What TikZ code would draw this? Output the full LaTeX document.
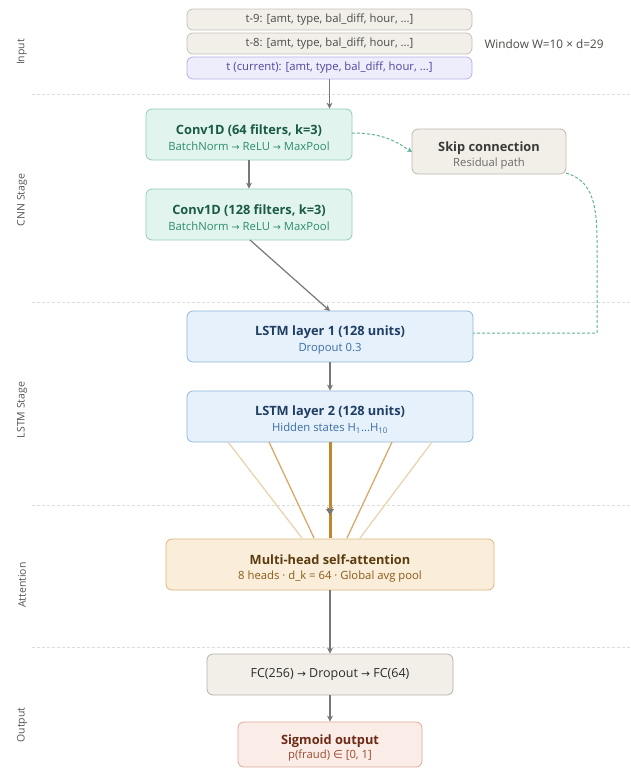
\documentclass[tikz,border=0pt]{standalone}
\usepackage{fontspec}
\setmainfont{Open Sans}
\newfontfamily\symfont{DejaVu Sans}
\newcommand{\rarr}{{\symfont\fontsize{0.85em}{1em}\selectfont →}}
\newcommand{\elemof}{{\symfont ∈}}
\usetikzlibrary{arrows.meta}
\definecolor{sepc}{HTML}{DDDDDA}
\definecolor{arrc}{HTML}{777775}
\definecolor{inpfill}{HTML}{F1EFE8}
\definecolor{inpdraw}{HTML}{C4C1B8}
\definecolor{inptext}{HTML}{4A4A47}
\definecolor{curfill}{HTML}{EEEDFC}
\definecolor{curdraw}{HTML}{B5B0E8}
\definecolor{curtext}{HTML}{4E45A0}
\definecolor{cnnfill}{HTML}{E1F5EE}
\definecolor{cnndraw}{HTML}{93CDB7}
\definecolor{cnntitle}{HTML}{1B5A47}
\definecolor{cnnsub}{HTML}{2F8A6C}
\definecolor{skipfill}{HTML}{F1EFE8}
\definecolor{skipdraw}{HTML}{BDB9AD}
\definecolor{skiptitle}{HTML}{3A3A37}
\definecolor{skipsub}{HTML}{6B6A65}
\definecolor{skipline}{HTML}{5DB394}
\definecolor{lstmfill}{HTML}{E6F1FB}
\definecolor{lstmdraw}{HTML}{8FB5DA}
\definecolor{lstmtitle}{HTML}{1F3E63}
\definecolor{lstmsub}{HTML}{3A6EA5}
\definecolor{attfill}{HTML}{FAEEDA}
\definecolor{attdraw}{HTML}{D9B67C}
\definecolor{atttitle}{HTML}{5A3C10}
\definecolor{attsub}{HTML}{8A5A18}
\definecolor{fanouter}{HTML}{EBD3B0}
\definecolor{faninner}{HTML}{D6AA68}
\definecolor{fancenter}{HTML}{C4862C}
\definecolor{fcfill}{HTML}{F1EFE8}
\definecolor{fcdraw}{HTML}{B4B2A9}
\definecolor{fctext}{HTML}{2C2C2A}
\definecolor{sigfill}{HTML}{FAECE7}
\definecolor{sigdraw}{HTML}{E0A898}
\definecolor{sigtitle}{HTML}{6E2A17}
\definecolor{sigsub}{HTML}{A04A30}
\definecolor{stagec}{HTML}{555553}
\newcommand{\ttl}{\fontsize{12.8}{15}\selectfont\bfseries\rule{0pt}{17pt}}
\newcommand{\sbt}{\fontsize{11.3}{13}\selectfont}
\begin{document}
\begin{tikzpicture}[x=1pt,y=-1pt,
  boxbase/.style={rectangle,rounded corners=6pt,line width=0.8pt,align=center,inner sep=0pt},
  inpbox/.style={boxbase,fill=inpfill,draw=inpdraw,text=inptext,minimum width=285pt,minimum height=21pt,font=\fontsize{11.3}{12}\selectfont},
  curbox/.style={boxbase,fill=curfill,draw=curdraw,text=curtext,minimum width=285pt,minimum height=22pt,font=\fontsize{11.3}{12}\selectfont},
  cnnbox/.style={boxbase,fill=cnnfill,draw=cnndraw,minimum width=206pt,minimum height=51pt},
  skipbox/.style={boxbase,fill=skipfill,draw=skipdraw,minimum width=154pt,minimum height=45pt},
  lstmbox/.style={boxbase,fill=lstmfill,draw=lstmdraw,minimum width=286pt,minimum height=51pt},
  attbox/.style={boxbase,fill=attfill,draw=attdraw,minimum width=328pt,minimum height=51pt},
  fcbox/.style={boxbase,fill=fcfill,draw=fcdraw,text=fctext,minimum width=246pt,minimum height=41pt,font=\fontsize{12.5}{14}\selectfont},
  sigbox/.style={boxbase,fill=sigfill,draw=sigdraw,minimum width=184pt,minimum height=45pt},
  sep/.style={draw=sepc,line width=0.7pt,dash pattern=on 3pt off 2pt},
  flow/.style={draw=arrc,line width=1.2pt,-{Stealth[length=6pt,width=6pt]}},
  skipln/.style={draw=skipline,line width=1pt,dash pattern=on 3pt off 2pt},
  stage/.style={rotate=90,text=stagec,font=\fontsize{10.5}{12}\selectfont},
]
\useasboundingbox (0,0) rectangle (631,769);
% separators
\coordinate (s1a) at (32,94);   \coordinate (s1b) at (631,94);
\coordinate (s2a) at (32,302);  \coordinate (s2b) at (631,302);
\coordinate (s3a) at (32,505);  \coordinate (s3b) at (631,505);
\coordinate (s4a) at (32,647);  \coordinate (s4b) at (631,647);
\draw[sep] (s1a) -- (s1b);
\draw[sep] (s2a) -- (s2b);
\draw[sep] (s3a) -- (s3b);
\draw[sep] (s4a) -- (s4b);
% stage labels
\node[stage] (lin) at (22,52) {Input};
\node[stage] (lcnn) at (22,200) {CNN Stage};
\node[stage] (llstm) at (22,410) {LSTM Stage};
\node[stage] (latt) at (22,585) {Attention};
\node[stage] (lout) at (22,725) {Output};
% input
\node[inpbox] (t9) at (329.5,19.5) {t-9: [amt, type, bal\_diff, hour, ...]};
\node[inpbox] (t8) at (329.5,43.5) {t-8: [amt, type, bal\_diff, hour, ...]};
\node[curbox] (tc) at (329.5,68) {t (current): [amt, type, bal\_diff, hour, ...]};
\node[anchor=west,text=inptext,font=\fontsize{11.8}{13}\selectfont] (win) at (481,44) {Window W=10 × d=29};
% CNN
\node[cnnbox] (c1) at (249,134.5) {{\ttl\color{cnntitle}Conv1D (64 filters, k=3)}\\[4pt]{\sbt\color{cnnsub}BatchNorm \rarr{} ReLU \rarr{} MaxPool}};
\node[cnnbox] (c2) at (249,214.5) {{\ttl\color{cnntitle}Conv1D (128 filters, k=3)}\\[4pt]{\sbt\color{cnnsub}BatchNorm \rarr{} ReLU \rarr{} MaxPool}};
\node[skipbox] (sk) at (489,151.5) {{\ttl\color{skiptitle}Skip connection}\\[3pt]{\sbt\color{skipsub}Residual path}};
% LSTM
\node[lstmbox] (l1) at (330,336.5) {{\ttl\color{lstmtitle}LSTM layer 1 (128 units)}\\[4pt]{\sbt\color{lstmsub}Dropout 0.3}};
\node[lstmbox] (l2) at (330,416.5) {{\ttl\color{lstmtitle}LSTM layer 2 (128 units)}\\[4pt]{\sbt\color{lstmsub}Hidden states H\textsubscript{1}...H\textsubscript{10}}};
% attention
\node[attbox] (at) at (330,564.5) {{\ttl\color{atttitle}Multi-head self-attention}\\[3pt]{\sbt\color{attsub}8 heads · d\_k = 64 · Global avg pool}};
% output
\node[fcbox] (fc) at (330,674.5) {FC(256) \rarr{} Dropout \rarr{} FC(64)};
\node[sigbox] (sg) at (330,744.5) {{\ttl\color{sigtitle}Sigmoid output}\\[2pt]{\sbt\color{sigsub}p(fraud) \elemof{} [0, 1]}};
% flow arrows
\draw[flow] (tc.south) -- (c1.north -| tc.south);
\draw[flow] (c1.south) -- (c2.north);
\coordinate (c2o) at (250,240);
\coordinate (l1i) at (330,311);
\draw[flow] (c2o) -- (l1i);
\draw[flow] (l1.south) -- (l2.north);
% skip path
\coordinate (c1e) at (352,133);
\coordinate (ske) at (412,152);
\draw[skipln,-{Stealth[length=5pt,width=5pt]}] (c1e) .. controls (385,133) and (398,143) .. (ske);
\coordinate (sko) at (566,173);
\coordinate (skd) at (597,240);
\coordinate (skc) at (597,333);
\coordinate (l1e) at (473,333);
\draw[skipln] (sko) .. controls (590,180) and (597,200) .. (skd) -- (skc) -- (l1e);
% attention fan
\coordinate (ha) at (228,442); \coordinate (hb) at (269,442); \coordinate (hc) at (330,442);
\coordinate (hd) at (392,442); \coordinate (he) at (432,442);
\coordinate (qa) at (302,538); \coordinate (qb) at (314,538); \coordinate (qc) at (330,538);
\coordinate (qd) at (347,538); \coordinate (qe) at (360,538);
\coordinate (mid) at (330,513);
\draw[flow] (hc) -- (mid);
\draw[fanouter,line width=1.3pt] (ha) -- (qa);
\draw[fanouter,line width=1.3pt] (he) -- (qe);
\draw[faninner,line width=1.3pt] (hb) -- (qb);
\draw[faninner,line width=1.3pt] (hd) -- (qd);
\draw[fancenter,line width=3pt] (hc) -- (qc);
\fill[arrc] (326,509) -- (334,509) -- (330,515) -- cycle;
\draw[flow] (at.south) -- (fc.north);
\draw[flow] (fc.south) -- (sg.north);
\end{tikzpicture}
\end{document}
